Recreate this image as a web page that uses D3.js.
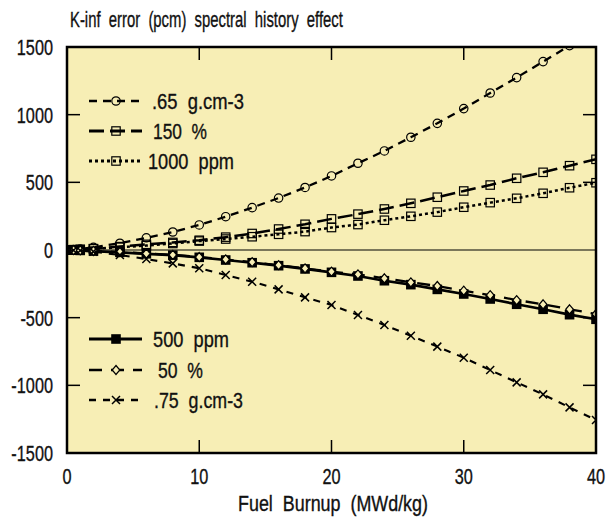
<!DOCTYPE html>
<html>
<head>
    <script src="https://d3js.org/d3.v7.min.js"></script>
    <style>
        body { margin: 0; background: #fff; }
        text { font-family: "Liberation Sans", Arial, sans-serif; fill: #111; stroke: #111; stroke-width: 0.35px; }
    </style>
</head>
<body>
    <svg id="plot" width="615" height="519"></svg>
    <script>
        // data (burnup in MWd/kg, error in pcm)
        const burnup = [0, 0.5, 1, 2, 4, 6, 8, 10, 12, 14, 16, 18, 20, 22, 24, 26, 28, 30, 32, 34, 36, 38, 40];
        const dens65  = [0, 3, 7, 20, 50, 90, 133, 185, 246, 313, 384, 462, 547, 641, 732, 833, 936, 1045, 1160, 1274, 1392, 1510, 1630];
        const void150 = [0, 2, 4, 10, 25, 42, 56, 72, 95, 122, 155, 190, 230, 265, 303, 345, 390, 436, 480, 530, 574, 623, 670];
        const boron1000 = [0, 2, 4, 9, 20, 33, 48, 66, 81, 98, 116, 136, 166, 188, 220, 249, 280, 316, 350, 382, 419, 460, 497];
        const boron500 = [0, -1, -3, -8, -17, -28, -38, -54, -74, -94, -116, -140, -165, -192, -227, -256, -291, -325, -362, -401, -438, -478, -512];
        const void50  = [0, -1, -3, -7, -15, -26, -36, -52, -70, -90, -112, -136, -160, -180, -209, -239, -266, -301, -333, -370, -401, -438, -473];
        const dens75  = [0, -2, -4, -12, -37, -67, -99, -135, -185, -234, -291, -350, -406, -480, -554, -633, -714, -796, -887, -978, -1067, -1163, -1256];

        const xTicks = [0, 10, 20, 30, 40];
        const yTicks = [-1500, -1000, -500, 0, 500, 1000, 1500];

        const series = [
            {name: '.65  g.cm-3', values: dens65,    dash: '8,6',  marker: 'circle',  width: 2.3},
            {name: '150  %',      values: void150,   dash: '15,6', marker: 'squareh', width: 2.5},
            {name: '1000  ppm',   values: boron1000, dash: '3,3',  marker: 'square',  width: 2.5},
            {name: '500  ppm',    values: boron500,  dash: null,   marker: 'filled',  width: 2.7},
            {name: '50  %',       values: void50,    dash: '13,9', marker: 'diamond', width: 2.3},
            {name: '.75  g.cm-3', values: dens75,    dash: '7,7',  marker: 'cross',   width: 2.1}
        ];

        const svg = d3.select('svg#plot');
        const margin = {top: 47, right: 19, bottom: 66, left: 67};
        const width = 615 - margin.left - margin.right;
        const height = 519 - margin.top - margin.bottom;
        const bg = '#f7eeb5';

        const x = d3.scaleLinear().domain([0, 40]).range([0, width]);
        const y = d3.scaleLinear().domain([-1500, 1500]).range([height, 0]);

        // condensed text: normal font squeezed horizontally
        function label(parent, px, py, str, size, anchor, fitWidth) {
            const g = parent.append('g').attr('transform', `translate(${px},${py})`);
            const t = g.append('text').attr('text-anchor', anchor).style('font-size', size + 'px')
                .style('white-space', 'pre').text(str);
            let sx = 0.74;
            if (fitWidth) sx = fitWidth / t.node().getComputedTextLength();
            t.attr('transform', `scale(${sx},1)`);
            return t;
        }

        const chart = svg.append('g').attr('transform', `translate(${margin.left},${margin.top})`);

        chart.append('rect').attr('width', width).attr('height', height).style('fill', bg);

        svg.append('defs').append('clipPath').attr('id', 'clip')
            .append('rect').attr('width', width).attr('height', height);

        // zero line
        chart.append('line')
            .attr('x1', 0).attr('x2', width)
            .attr('y1', y(0)).attr('y2', y(0))
            .style('stroke', '#000').style('stroke-width', 1.2);

        // inward tick marks on all four sides
        const tickLen = 13;
        xTicks.slice(1, -1).forEach(t => {
            chart.append('line').attr('x1', x(t)).attr('x2', x(t)).attr('y1', 0).attr('y2', tickLen)
                .style('stroke', '#000').style('stroke-width', 1.5);
            chart.append('line').attr('x1', x(t)).attr('x2', x(t)).attr('y1', height).attr('y2', height - tickLen)
                .style('stroke', '#000').style('stroke-width', 1.5);
        });
        yTicks.slice(1, -1).forEach(t => {
            if (t === 0) return;
            chart.append('line').attr('x1', 0).attr('x2', tickLen).attr('y1', y(t)).attr('y2', y(t))
                .style('stroke', '#000').style('stroke-width', 1.5);
            chart.append('line').attr('x1', width).attr('x2', width - tickLen).attr('y1', y(t)).attr('y2', y(t))
                .style('stroke', '#000').style('stroke-width', 1.5);
        });

        // markers
        function drawMarker(g, kind, cx, cy) {
            if (kind === 'circle') {
                g.append('circle').attr('cx', cx).attr('cy', cy).attr('r', 4.2)
                    .style('fill', 'none').style('stroke', '#000').style('stroke-width', 1.2);
            } else if (kind === 'squareh' || kind === 'square') {
                g.append('rect').attr('x', cx - 4.2).attr('y', cy - 4.2).attr('width', 8.4).attr('height', 8.4)
                    .style('fill', 'none').style('stroke', '#000').style('stroke-width', 1.2);
            } else if (kind === 'filled') {
                g.append('rect').attr('x', cx - 4.8).attr('y', cy - 4.8).attr('width', 9.6).attr('height', 9.6)
                    .style('fill', '#000');
            } else if (kind === 'diamond') {
                g.append('path').attr('d', `M${cx},${cy - 4.5}L${cx + 3.8},${cy}L${cx},${cy + 4.5}L${cx - 3.8},${cy}Z`)
                    .style('fill', bg).style('stroke', '#000').style('stroke-width', 1.2);
            } else if (kind === 'cross') {
                g.append('path').attr('d', `M${cx - 4},${cy - 4}L${cx + 4},${cy + 4}M${cx - 4},${cy + 4}L${cx + 4},${cy - 4}`)
                    .style('stroke', '#000').style('stroke-width', 1.5);
            }
        }

        const line = d3.line().x((d, i) => x(burnup[i])).y(d => y(d));
        const plotArea = chart.append('g').attr('clip-path', 'url(#clip)');

        series.forEach(s => {
            plotArea.append('path').datum(s.values)
                .attr('d', line)
                .style('fill', 'none')
                .style('stroke', '#000')
                .style('stroke-width', s.width)
                .style('stroke-dasharray', s.dash);
            s.values.forEach((v, i) => drawMarker(plotArea, s.marker, x(burnup[i]), y(v)));
        });

        // frame
        chart.append('rect').attr('width', width).attr('height', height)
            .style('fill', 'none').style('stroke', '#000').style('stroke-width', 2.5);

        // tick labels
        yTicks.forEach(t => {
            label(svg, margin.left - 14, margin.top + y(t) + 8, String(t), 22, 'end');
        });
        xTicks.forEach(t => {
            label(svg, margin.left + x(t), 484, String(t), 22, 'middle');
        });

        // titles
        label(svg, 70, 27, 'K-inf  error  (pcm)  spectral  history  effect', 22, 'start', 273);
        label(svg, 333, 511, 'Fuel  Burnup  (MWd/kg)', 22, 'middle', 190);

        // legends
        const legendY = [101, 131, 161, 339, 370, 400];
        const textX = [152, 153, 148, 153, 158, 154];
        const textW = [92, 54, 86, 76, 45, 89];
        series.forEach((s, i) => {
            const ly = legendY[i];
            svg.append('line')
                .attr('x1', 89).attr('x2', 142).attr('y1', ly).attr('y2', ly)
                .style('stroke', '#000').style('stroke-width', s.width + 0.4)
                .style('stroke-dasharray', s.dash);
            drawMarker(svg, s.marker, 116, ly);
            label(svg, textX[i], ly + 8, s.name, 22, 'start', textW[i]);
        });
    </script>
</body>
</html>
